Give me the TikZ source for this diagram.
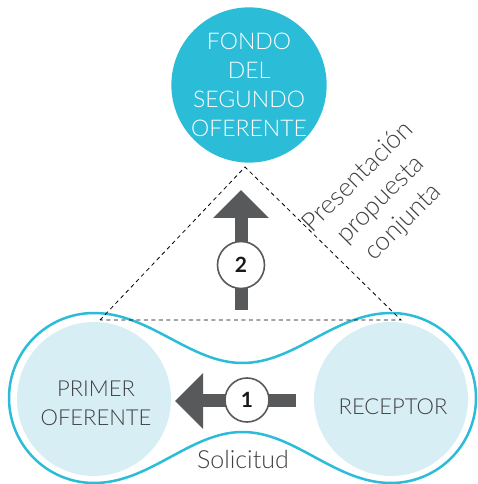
\documentclass[tikz,border=0pt]{standalone}
\usepackage{fontspec}
\setmainfont{Lato}
\newfontfamily\latolight{Lato Light}
\usetikzlibrary{arrows.meta,positioning}
\definecolor{cyanfondo}{HTML}{2BBCD8}
\definecolor{azulclaro}{HTML}{D8EEF5}
\definecolor{grisflecha}{HTML}{58595B}
\definecolor{gristexto}{HTML}{414042}
\tikzset{
  circulo/.style={circle, minimum size=154pt, inner sep=0pt},
  texto/.style={text=gristexto, align=center, font=\latolight\fontsize{22}{29}\selectfont},
  numero/.style={circle, draw=grisflecha, line width=1.6pt, fill=white, inner sep=0pt, font=\bfseries\fontsize{21}{21}\selectfont, text=black!90},
  flecha/.style={grisflecha, line width=13pt, -{Triangle[width=54pt,length=28pt]}}
}
\begin{document}
\begin{tikzpicture}[x=1pt,y=1pt]
				\useasboundingbox (0,0) rectangle (477,484);
				% Circles
				\node[circulo, fill=azulclaro] (primer) at (94,85) {};
				\node[circulo, fill=azulclaro] (receptor) at (391,85) {};
				\node[circulo, fill=cyanfondo, text=white, align=center, font=\latolight\fontsize{23}{29}\selectfont] (fondo) at (249,399) {FONDO\\DEL\\SEGUNDO\\OFERENTE};
				\node[texto] (t-primer) at (96,81) {PRIMER\\OFERENTE};
				\node[texto] (t-receptor) at (393,77) {RECEPTOR};

				% Outline
				\draw[cyanfondo, line width=2.5pt] (94,171) arc[start angle=90, end angle=270, radius=85]
					.. controls (150,1) and (190,52) .. (242.5,52)
					.. controls (295,52) and (335,1) .. (391,1)
					arc[start angle=-90, end angle=90, radius=85]
					.. controls (335,171) and (295,121) .. (242.5,121)
					.. controls (190,121) and (150,171) .. cycle;

				% Triangle
				\coordinate (apex) at (245,317);
				\coordinate (base-l) at (100,164);
				\coordinate (base-r) at (401,164);
				\draw[dash pattern=on 4pt off 3.5pt, line width=0.8pt] (base-l) -- (apex) -- (base-r) -- cycle;

				% Arrows
				\coordinate (a1-start) at (296,83);
				\coordinate (a1-end) at (175,83);
				\coordinate (a2-start) at (241,174);
				\coordinate (a2-end) at (241,294);
				\draw[flecha] (a1-start) -- (a1-end);
				\draw[flecha] (a2-start) -- (a2-end);
				\node[numero, minimum size=44pt] (n1) at (247,84) {1};
				\node[numero, minimum size=47pt] (n2) at (241,219) {2};

				% Labels
				\node[texto, rotate=45, font=\latolight\fontsize{26}{32}\selectfont] (presentacion) at (381,284) {Presentación\\propuesta\\conjunta};
				\node[texto, font=\latolight\fontsize{25}{29}\selectfont] (solicitud) at (243,24) {Solicitud};
			\end{tikzpicture}
\end{document}
